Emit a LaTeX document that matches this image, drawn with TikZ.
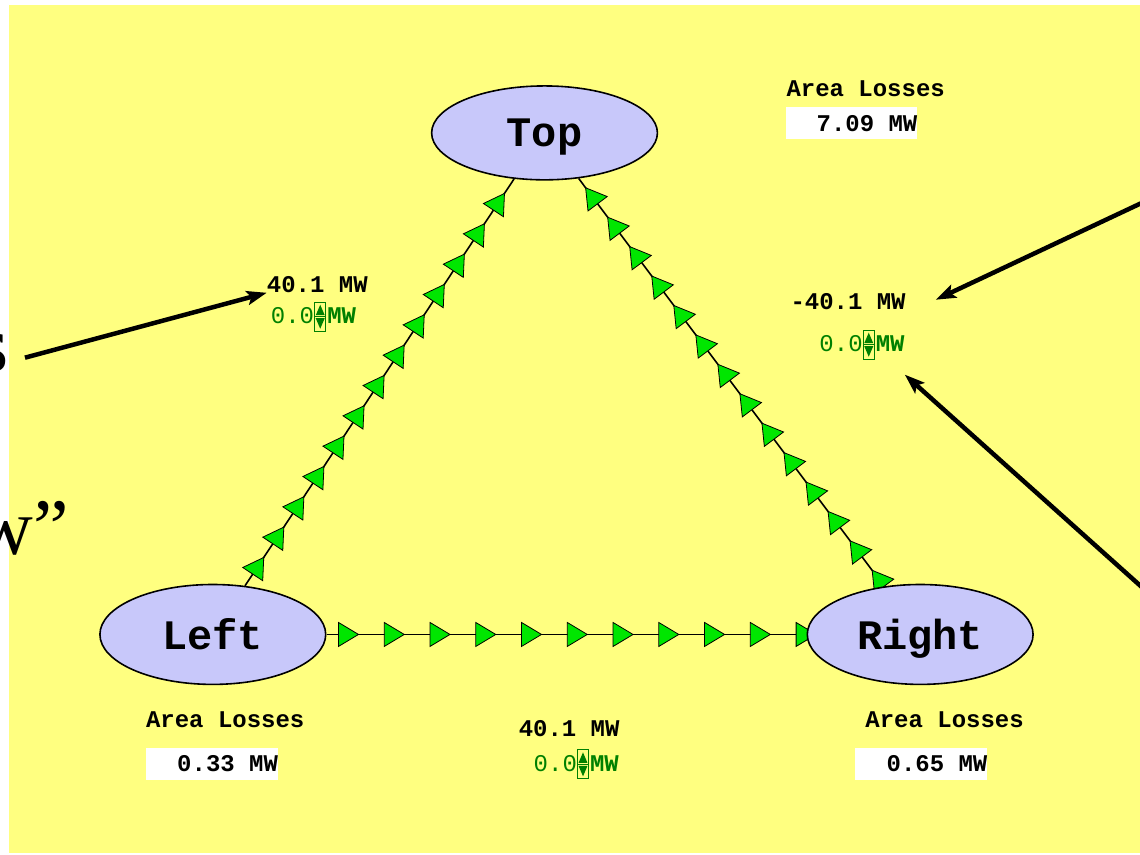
\documentclass[tikz,border=0pt]{standalone}
\usepackage{fontspec}
\setmainfont{Liberation Serif}
\setmonofont{Liberation Mono}
\usetikzlibrary{arrows.meta,positioning,shapes.geometric,decorations.markings}
\definecolor{pad}{RGB}{255,255,128}
\definecolor{lilac}{RGB}{200,200,250}
\definecolor{flowgreen}{RGB}{0,230,0}
\definecolor{valgreen}{RGB}{0,128,0}
\pgfdeclarelayer{paper}
\pgfdeclarelayer{wires}
\pgfsetlayers{paper,wires,main}
\newcommand{\lossval}[1]{\makebox[132pt][r]{#1}}
\tikzset{
  area/.style={ellipse,draw,line width=1.6pt,fill=lilac,minimum width=226pt,
    minimum height=100pt,inner sep=0pt,text depth=0pt,
    font=\fontsize{42}{44}\selectfont\ttfamily\bfseries},
  tri/.style={draw=black,line width=0.8pt,fill=flowgreen},
  % line between two areas, green arrows every #3 from #1 to #2
  flow/.style n args={3}{draw,line width=1.6pt,postaction={decorate},
    decoration={markings,mark=between positions #1 and #2 step #3 with
      {\draw[tri] (-10,-12) -- (10,0) -- (-10,12) -- cycle;}}},
  mw/.style={font=\fontsize{24}{26}\selectfont\ttfamily\bfseries,inner sep=0pt,anchor=base west},
  num/.style={font=\fontsize{24}{26}\selectfont\ttfamily,text=valgreen,inner sep=0pt,anchor=base west},
  spin/.style={draw=valgreen,line width=0.8pt,minimum width=11pt,minimum height=29pt,
    inner sep=0pt,anchor=west,
    path picture={
      \fill[valgreen] ([yshift=12pt]path picture bounding box.center) --
        ([xshift=-4.5pt,yshift=1.5pt]path picture bounding box.center) --
        ([xshift=4.5pt,yshift=1.5pt]path picture bounding box.center) -- cycle;
      \fill[valgreen] ([yshift=-12pt]path picture bounding box.center) --
        ([xshift=-4.5pt,yshift=-1.5pt]path picture bounding box.center) --
        ([xshift=4.5pt,yshift=-1.5pt]path picture bounding box.center) -- cycle;
      \draw[valgreen,line width=0.6pt] (path picture bounding box.west) -- (path picture bounding box.east);
    }},
  lossbox/.style={fill=white,minimum height=32pt,inner sep=0pt,
    anchor=north west,font=\fontsize{24}{26}\selectfont\ttfamily\bfseries},
  callout/.style={line width=4.5pt,-{Stealth[length=20pt,width=14pt,inset=4pt]}},
  slide/.style={font=\fontsize{80}{80}\selectfont,inner sep=0pt,anchor=base east}
}

\begin{document}
\begin{tikzpicture}[x=1pt,y=-1pt]
  \begin{pgfonlayer}{paper}
    \fill[white] (0,0) rectangle (1140,855);
    \fill[pad] (9,5) rectangle (1141,854);
  \end{pgfonlayer}
  \useasboundingbox (0,0) rectangle (1140,855);

  % the three areas
  \node[area,minimum height=94pt] (top) at (545,133) {Top};
  \node[area] (left) at (213,635) {Left};
  \node[area] (right) at (921,635) {Right};

  \begin{pgfonlayer}{wires}
    \draw[flow={24pt}{466pt}{36.4pt}] (left) -- (top);
    \draw[flow={10pt}{495pt}{36.8pt}] (right) -- (top);
    \draw[flow={22pt}{485pt}{45.8pt}] (left) -- (right);
  \end{pgfonlayer}

  % flows on the lines
  \node[mw] (f1) at (267,293) {40.1 MW};
  \node[num] (n1) at (271,324) {0.0};
  \node[spin] (s1) at ([yshift=7pt]n1.base east) {};
  \node[mw,text=valgreen] (u1) at ([xshift=1pt]s1.east |- n1.base) {MW};

  \node[mw] (f2) at (791,310) {-40.1 MW};
  \node[num] (n2) at (820,352) {0.0};
  \node[spin] (s2) at ([yshift=7pt]n2.base east) {};
  \node[mw,text=valgreen] (u2) at ([xshift=1pt]s2.east |- n2.base) {MW};

  \node[mw] (f3) at (519,737) {40.1 MW};
  \node[num] (n3) at (534,772) {0.0};
  \node[spin] (s3) at ([yshift=7pt]n3.base east) {};
  \node[mw,text=valgreen] (u3) at ([xshift=1pt]s3.east |- n3.base) {MW};

  % losses per area
  \node[mw] (la) at (787,97) {Area Losses};
  \node[lossbox] (lb) at (786,107) {\lossval{7.09 MW}};
  \node[mw] (ll) at (146,728) {Area Losses};
  \node[lossbox] (lbl) at (146,748) {\lossval{0.33 MW}};
  \node[mw] (lr) at (866,728) {Area Losses};
  \node[lossbox] (lbr) at (856,748) {\lossval{0.65 MW}};

  % slide text cut by the frame
  \node[slide] (w1) at (9,372) {s};
  \node[slide] (w2) at (69,555) {w”};

  \coordinate (c1) at (25,358);
  \coordinate (c2) at (1160,195);
  \coordinate (c3) at (1160,603);
  \draw[callout] (c1) -- (f1.base west);
  \draw[callout] (c2) -- ([xshift=30pt,yshift=10pt]f2.base east);
  \draw[callout] (c3) -- ([yshift=-23pt]u2.base east);
\end{tikzpicture}
\end{document}
